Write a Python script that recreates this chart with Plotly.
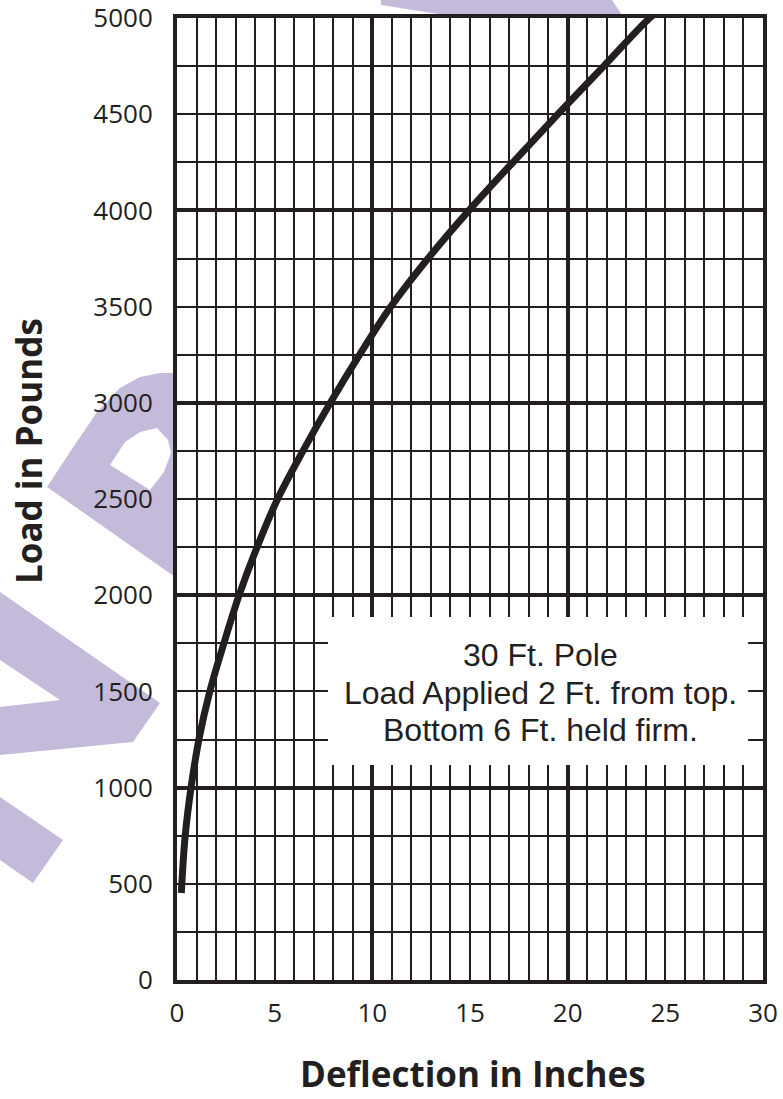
import plotly.graph_objects as go

# ---- data ----
deflection_in = [0.22, 0.42, 0.72, 1.12, 1.68, 2.4, 3.18, 4.1, 5.15, 6.45, 7.85, 9.35,
                 10.95, 12.85, 14.95, 17.2, 19.5, 21.85, 24.2, 24.85]
load_lb = [452, 750, 1000, 1250, 1500, 1750, 2000, 2250, 2500, 2750, 3000, 3250,
           3500, 3750, 4000, 4250, 4500, 4750, 5000, 5052]
x_tick_vals = [0, 5, 10, 15, 20, 25, 30]
y_tick_vals = [0, 500, 1000, 1500, 2000, 2500, 3000, 3500, 4000, 4500, 5000]
x_major_grid = [10, 20]
y_major_grid = [1000, 2000, 3000, 4000]
note_lines = ["30 Ft. Pole", "Load Applied 2 Ft. from top.", "Bottom 6 Ft. held firm."]
x_title = "Deflection in Inches"
y_title = "Load in Pounds"

INK = "#231f20"
WM = "rgb(196,186,218)"
W, H = 783, 1099
ML, MR, MT, MB = 177, 20, 18, 119
PW, PH = W - ML - MR, H - MT - MB


def px2paper(pts):
    return [((x - ML) / PW, (H - MB - y) / PH) for x, y in pts]


def poly_path(pts):
    p = px2paper(pts)
    return "M " + " L ".join(f"{a:.4f},{b:.4f}" for a, b in p) + " Z"


# decorative watermark polygons (pixel outlines)
wm_polys = [
    [(381, 0), (612, 0), (632, 30), (540, 30), (381, 5)],
    [(47, 487), (70, 452), (97, 412), (120, 388), (140, 377), (160, 373), (185, 373), (185, 584)],
    [(0, 592), (160, 703), (133, 742), (0, 755), (0, 707), (60, 700), (0, 660)],
    [(0, 797), (63, 840), (33, 883), (0, 860)],
]
wm_hole = [(110, 465), (125, 442), (140, 432), (157, 428), (168, 440), (171, 453), (164, 472), (150, 490)]

shapes = []
for poly in wm_polys:
    shapes.append(dict(type="path", xref="paper", yref="paper", path=poly_path(poly),
                       fillcolor=WM, line=dict(width=0), layer="below"))
shapes.append(dict(type="path", xref="paper", yref="paper", path=poly_path(wm_hole),
                   fillcolor="white", line=dict(width=0), layer="below"))
# white plot area over the watermark
shapes.append(dict(type="rect", xref="paper", yref="paper", x0=0, x1=1, y0=0, y1=1,
                   fillcolor="white", line=dict(width=0), layer="below"))
# white note box
shapes.append(dict(type="rect", xref="x", yref="y", x0=7.73, x1=29.24, y0=1117, y1=1887,
                   fillcolor="white", line=dict(width=0), layer="above"))

fig = go.Figure()
fig.add_trace(go.Scatter(x=deflection_in, y=load_lb, mode="lines",
                         line=dict(color=INK, width=7, shape="spline", smoothing=1.0),
                         cliponaxis=False, showlegend=False, hoverinfo="skip"))
fig.add_trace(go.Scatter(x=[None], y=[None], xaxis="x2", yaxis="y2",
                         showlegend=False, hoverinfo="skip"))

tickfont = dict(family="Open Sans", size=26, color=INK)
fig.update_layout(
    width=W, height=H,
    margin=dict(l=ML, r=MR, t=MT, b=MB, autoexpand=False),
    paper_bgcolor="white", plot_bgcolor="rgba(0,0,0,0)",
    showlegend=False,
    xaxis=dict(range=[0, 30], tickmode="array", tickvals=x_tick_vals,
               showgrid=True, gridcolor=INK, gridwidth=2,
               minor=dict(tickmode="linear", tick0=0, dtick=1, showgrid=True,
                          gridcolor=INK, gridwidth=2),
               ticks="outside", ticklen=7, tickcolor="rgba(0,0,0,0)",
               tickfont=tickfont, zeroline=False, ticklabeloverflow="allow",
               automargin=False,
               showline=True, linecolor=INK, linewidth=4, mirror=True),
    yaxis=dict(range=[0, 5000], tickmode="array", tickvals=y_tick_vals,
               showgrid=True, gridcolor=INK, gridwidth=2,
               minor=dict(tickmode="linear", tick0=0, dtick=250, showgrid=True,
                          gridcolor=INK, gridwidth=2),
               ticks="outside", ticklen=15, tickcolor="rgba(0,0,0,0)",
               tickfont=tickfont, zeroline=False, ticklabeloverflow="allow",
               automargin=False,
               showline=True, linecolor=INK, linewidth=4, mirror=True),
    xaxis2=dict(overlaying="x", anchor="y", range=[0, 30], tickmode="array",
                tickvals=x_major_grid, showticklabels=False, ticks="",
                automargin=False,
                showgrid=True, gridcolor=INK, gridwidth=3.5, zeroline=False),
    yaxis2=dict(overlaying="y", anchor="x", range=[0, 5000], tickmode="array",
                tickvals=y_major_grid, showticklabels=False, ticks="",
                automargin=False,
                showgrid=True, gridcolor=INK, gridwidth=3.5, zeroline=False),
    shapes=shapes,
)

annots = [
    dict(text=f"<b>{x_title}</b>", xref="paper", yref="paper",
         x=(473 - ML) / PW, y=(H - MB - 1073) / PH, xanchor="center", yanchor="middle",
         showarrow=False, font=dict(family="Open Sans", size=35, color=INK)),
    dict(text=f"<b>{y_title}</b>", xref="paper", yref="paper", textangle=-90,
         x=(28 - ML) / PW, y=(H - MB - 451) / PH, xanchor="center", yanchor="middle",
         showarrow=False, font=dict(family="Open Sans", size=35, color=INK)),
]
note_y = [1689, 1492, 1300]
for txt, yy in zip(note_lines, note_y):
    annots.append(dict(text=txt, xref="x", yref="y", x=18.6, y=yy,
                       xanchor="center", yanchor="middle", showarrow=False,
                       font=dict(family="Liberation Sans", size=32, color=INK)))
fig.update_layout(annotations=annots)

fig.write_html("out.html", config={"displayModeBar": False},
               post_script="document.body.style.margin='0';document.body.style.padding='0';")
